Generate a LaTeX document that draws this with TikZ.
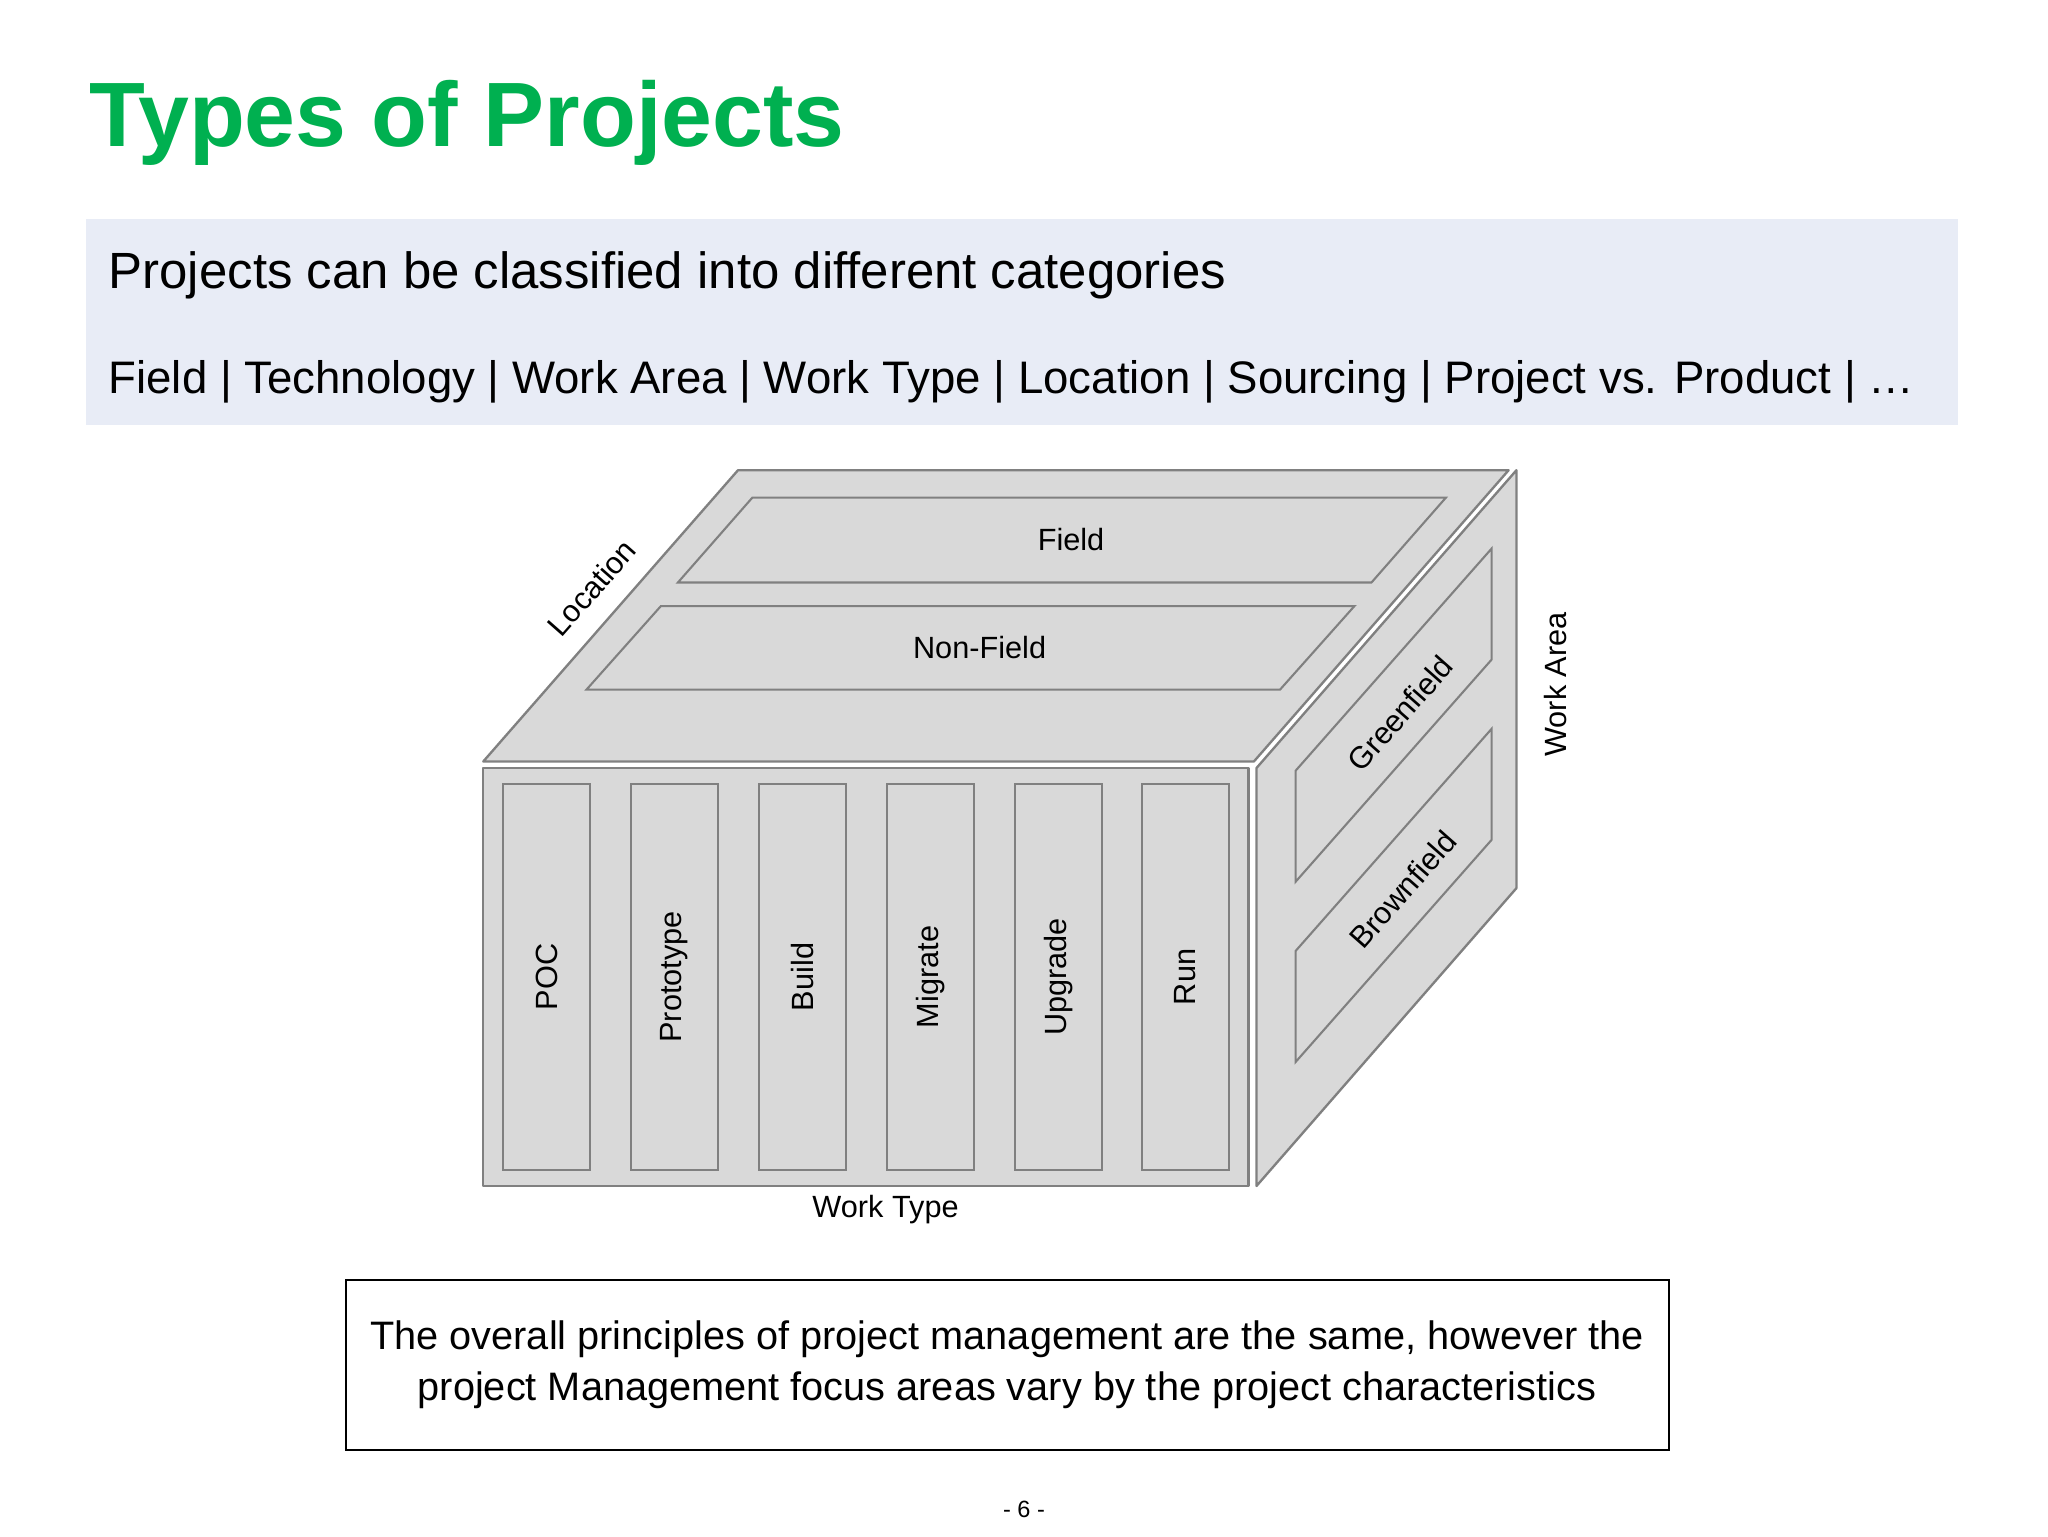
\documentclass[tikz,border=0pt]{standalone}
\usepackage{fontspec}
\setmainfont{Liberation Sans}
\definecolor{ttl}{RGB}{0,176,80}
\definecolor{band}{RGB}{232,236,246}
\definecolor{face}{RGB}{217,217,217}
\definecolor{edge}{RGB}{128,128,128}
\begin{document}
\begin{tikzpicture}[x=1pt,y=-1pt,
  facestyle/.style={fill=face,draw=edge,line width=1.8pt,line join=round},
  strip/.style={fill=face,draw=edge,line width=1.6pt},
  lbl/.style={font=\fontsize{23.5}{27}\selectfont,inner sep=0pt}]
\useasboundingbox (0,0) rectangle (1568,1176);
\fill[white] (0,0) rectangle (1568,1176);
\node[anchor=base west,text=ttl,font=\bfseries\fontsize{70}{80}\selectfont,inner sep=0pt] (title) at (68,112) {Types of Projects};
\fill[band] (66,168) rectangle (1499,325);
\node[anchor=base west,font=\fontsize{39}{44}\selectfont,inner sep=0pt] (sub1) at (83,221) {Projects can be classified into different categories};
\node[anchor=base west,font=\fontsize{34.9}{40}\selectfont,inner sep=0pt] (sub2) at (83,301) {Field | Technology | Work Area | Work Type | Location | Sourcing | Project vs. Product | …};
% box faces
\draw[facestyle] (370,583) -- (565,360) -- (1155,360) -- (960,583) -- cycle;
\draw[facestyle] (370,588) rectangle (956,908);
\draw[facestyle] (962,588) -- (1161,360) -- (1161,680) -- (962,908) -- cycle;
% top strips
\draw[strip] (519,446) -- (576,381) -- (1107,381) -- (1050,446) -- cycle;
\node[lbl] (field) at (820,413) {Field};
\draw[strip] (449,528) -- (506,464) -- (1037,464) -- (980,528) -- cycle;
\node[lbl] (nonfield) at (750,496) {Non-Field};
% front bars
\foreach \x/\t in {385/POC,483/Prototype,581/Build,679/Migrate,777/Upgrade,874/Run}{
  \draw[strip] (\x,600) rectangle (\x+67,896);
  \node[lbl,rotate=90] (bar\t) at (\x+33.5,748) {\t};
}
% right strips
\draw[strip] (992,590) -- (1142,420) -- (1142,505) -- (992,675) -- cycle;
\node[lbl,rotate=48.6] (green) at (1072,546) {Greenfield};
\draw[strip] (992,728) -- (1142,558) -- (1142,643) -- (992,813) -- cycle;
\node[lbl,rotate=48.6] (brown) at (1074,681) {Brownfield};
% axis labels
\node[lbl,rotate=48.6] (loc) at (453,450) {Location};
\node[lbl,rotate=90] (warea) at (1191,524) {Work Area};
\node[lbl] (wtype) at (678,926) {Work Type};
% bottom box
\draw[line width=1.2pt] (265,980) rectangle (1278,1110);
\node[align=center,font=\fontsize{30.4}{39}\selectfont,inner sep=0pt] (note) at (771,1045) {The overall principles of project management are the same, however the\\project Management focus areas vary by the project characteristics};
\node[font=\fontsize{18}{20}\selectfont,inner sep=0pt] (page) at (784,1156) {- 6 -};
\end{tikzpicture}
\end{document}
